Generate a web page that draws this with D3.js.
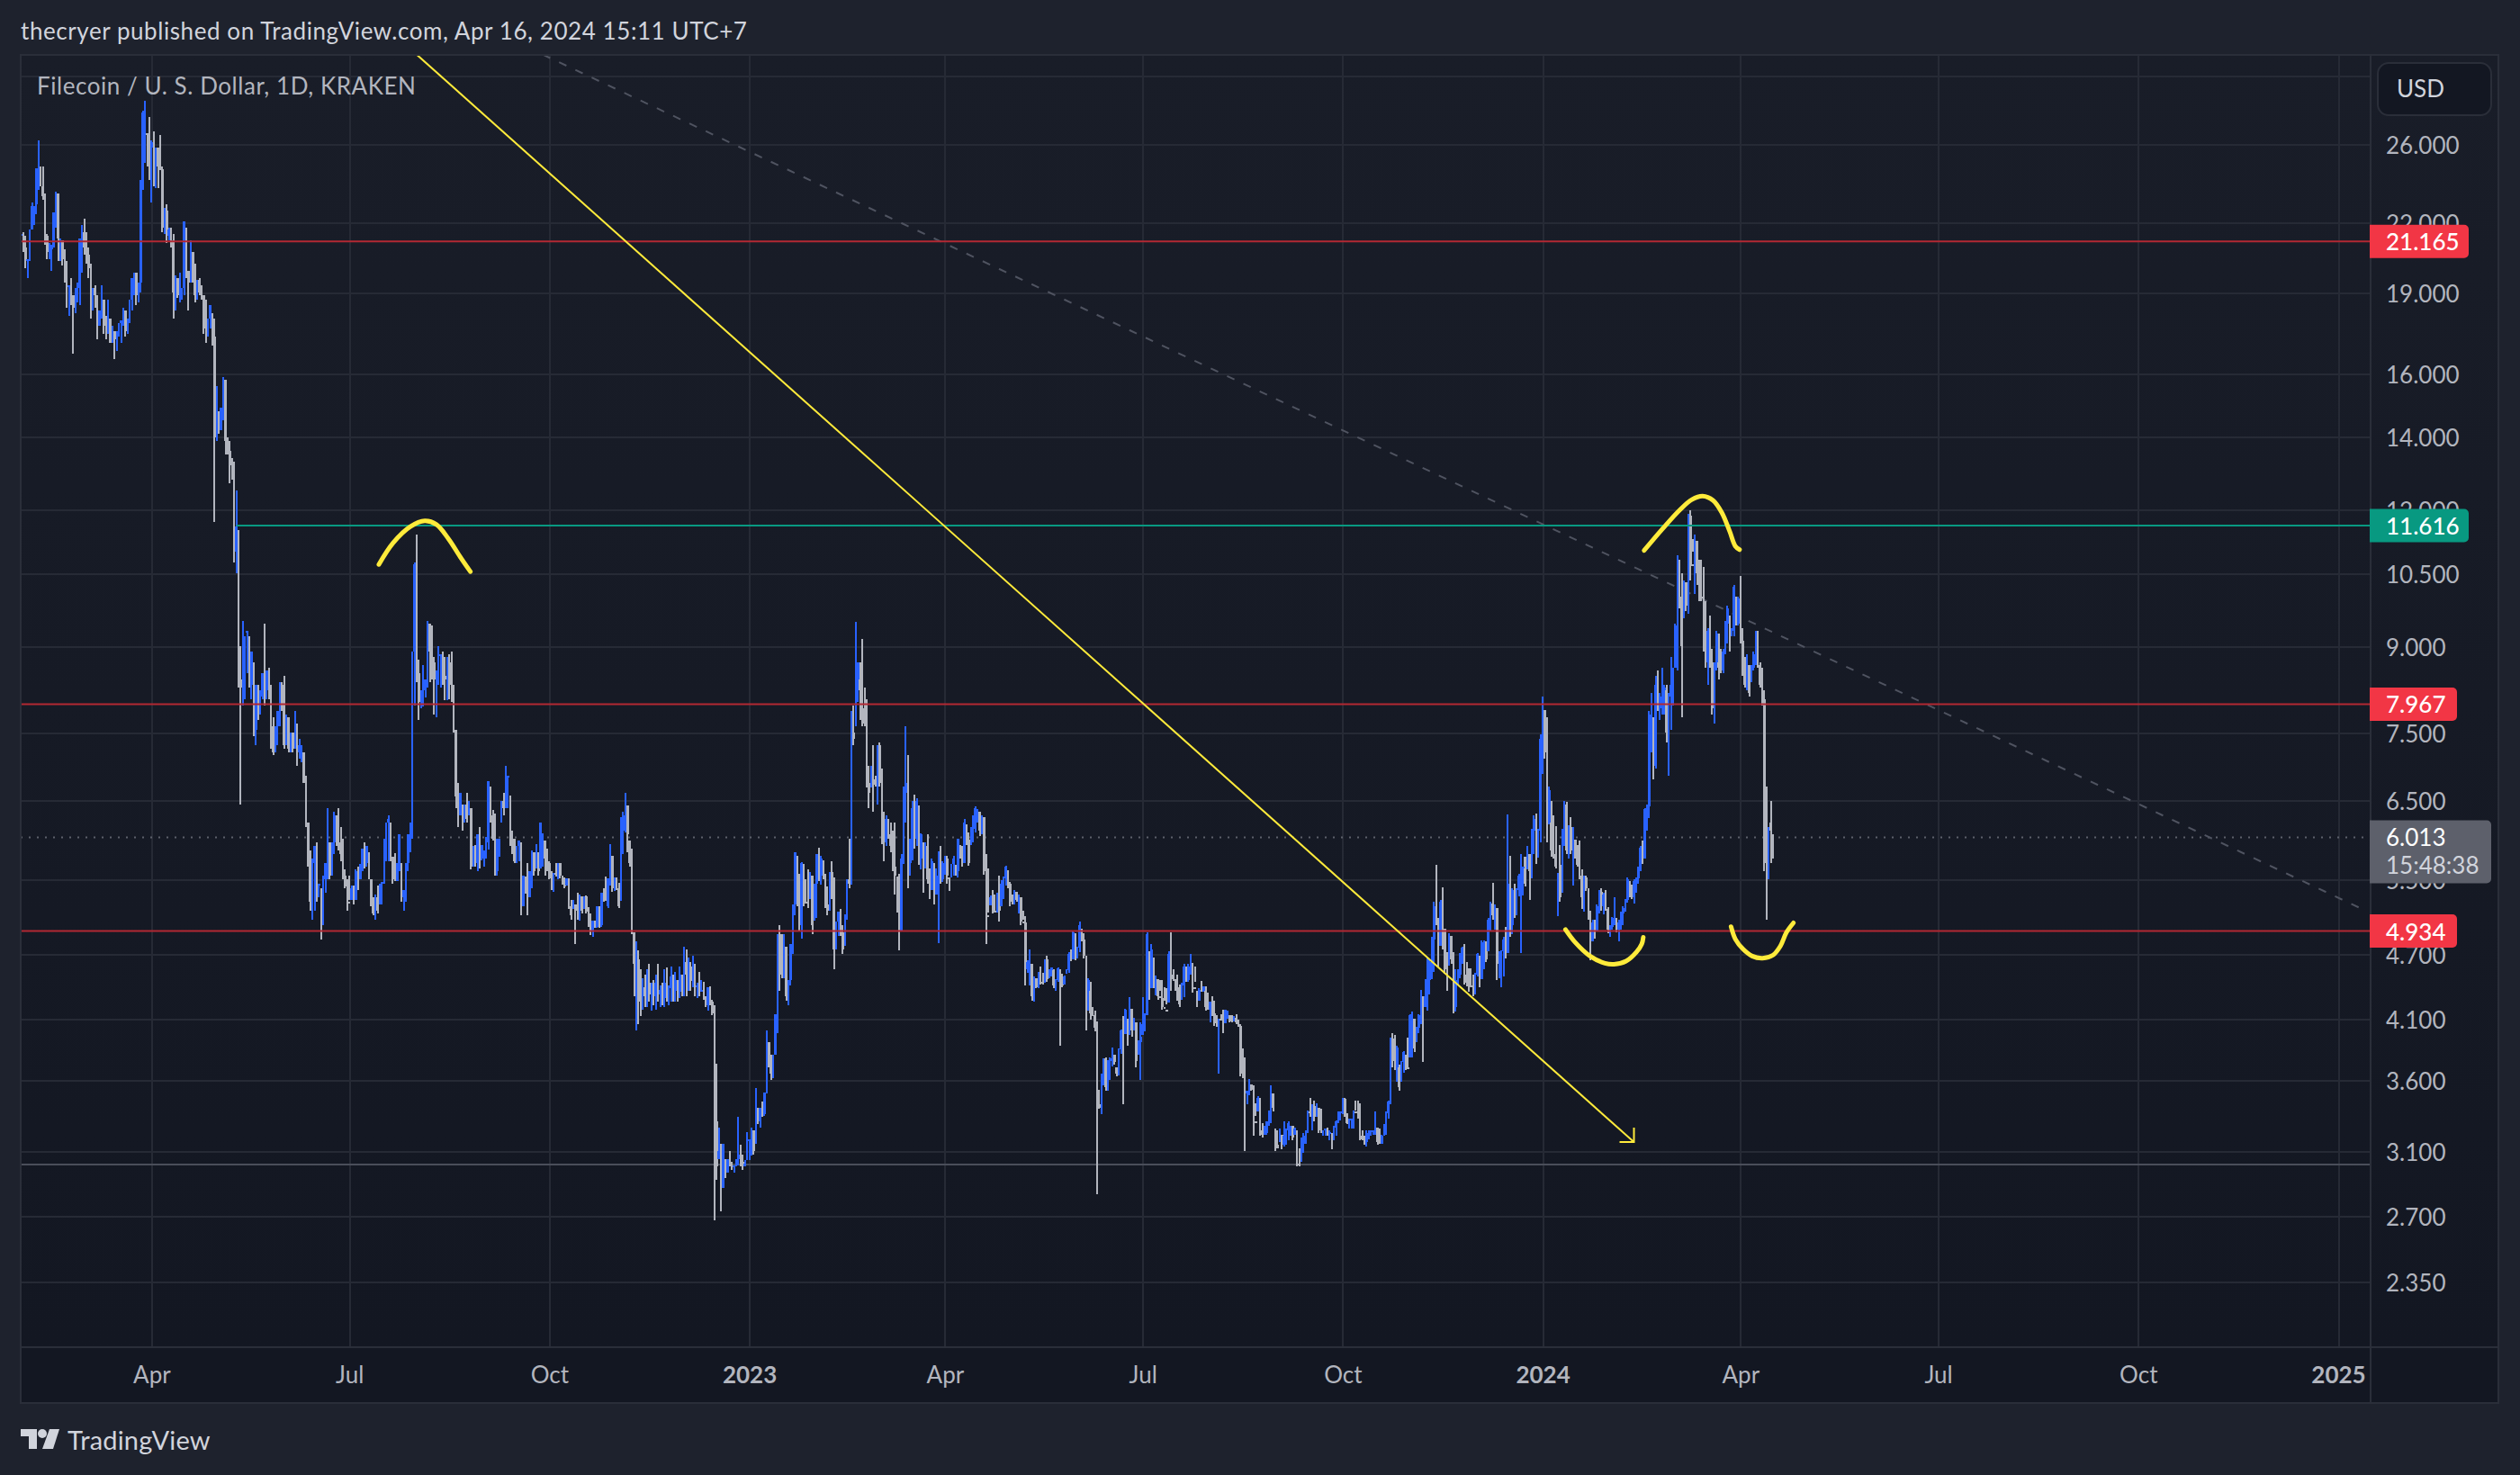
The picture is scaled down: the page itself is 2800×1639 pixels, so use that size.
<!DOCTYPE html>
<html>
<head>
<meta charset="utf-8">
<script src="https://cdn.jsdelivr.net/npm/d3@7"></script>
<style>
html, body { margin: 0; padding: 0; background: #1e222d; }
svg { display: block; }
text { font-family: Lato, "Noto Sans", sans-serif; }
</style>
</head>
<body>
<svg id="chart" width="2800" height="1639"></svg>
<script>
// every bar is [high, low, close], open is the close of the day before
let barsFromFeb22 = [
[21.6,19.0,21.5],[21.6,20.7,20.9],[21.4,20.0,20.3],[20.4,19.6,20.4],[21.7,20.3,21.7],[23.0,21.7,22.8],[22.8,21.9,22.9],[24.7,22.4,24.7],[26.2,23.6,24.8],[24.8,23.8,23.8],
[24.8,23.1,23.3],[23.4,21.0,21.4],[21.5,20.4,20.7],[21.1,20.4,20.8],[21.0,19.9,21.0],[22.5,20.9,22.5],[23.5,21.8,23.5],[23.4,20.3,21.3],[21.3,20.3,21.4],[21.2,20.1,20.4],
[20.8,19.4,19.8],[20.3,18.4,19.4],[19.3,18.1,19.5],[19.6,18.5,18.9],[18.9,16.7,18.4],[19.2,18.2,19.2],[19.4,18.6,19.4],[21.3,18.5,21.3],[21.9,19.8,21.6],[22.2,20.6,20.9],
[21.6,20.2,20.6],[20.9,19.6,20.0],[20.2,18.0,18.9],[19.2,18.3,19.2],[19.3,18.4,18.9],[18.9,17.2,17.7],[18.3,17.7,18.3],[19.3,18.0,19.2],[18.7,17.4,17.9],[18.1,17.2,17.7],
[18.7,17.4,18.7],[18.0,17.1,17.1],[17.7,17.1,17.7],[17.5,16.5,17.2],[17.5,16.8,17.5],[17.8,17.3,17.8],[17.9,17.1,17.9],[18.4,17.7,18.4],[18.3,17.3,17.5],[18.0,17.4,18.0],
[18.7,17.8,18.7],[19.6,18.3,19.6],[19.8,18.9,19.8],[19.8,18.5,18.9],[19.4,18.6,19.4],[24.1,19.0,24.1],[27.9,23.6,27.8],[28.5,25.0,27.8],[26.6,24.8,26.6],[27.5,24.1,25.8],
[26.2,23.0,26.1],[26.7,23.8,24.7],[25.8,23.7,25.8],[25.8,23.7,24.8],[26.5,24.6,24.65],[24.8,21.6,21.8],[22.7,21.5,22.6],[22.9,21.1,21.4],[21.8,21.2,21.7],[21.8,20.9,21.2],
[21.5,18.0,19.0],[19.7,18.3,19.7],[19.6,18.8,18.9],[19.8,18.6,19.2],[19.2,18.7,19.2],[22.1,18.9,22.1],[21.8,19.6,19.9],[19.9,18.3,19.4],[21.2,19.4,21.2],[20.7,19.4,19.6],
[20.2,18.6,18.9],[19.5,18.7,19.5],[19.6,18.9,19.0],[19.3,18.7,18.9],[18.9,17.4,17.6],[18.7,17.1,17.5],[18.0,17.3,18.0],[18.5,17.6,18.5],[18.2,17.0,17.3],[18.0,11.7,14.0],
[15.6,13.9,15.6],[14.8,14.1,14.2],[14.9,14.2,14.9],[15.9,14.5,15.9],[15.8,13.5,13.9],[14.0,13.5,13.6],[13.9,12.7,13.2],[13.4,12.8,13.0],[13.3,10.75,11.0]
];
let barsFromMay22 = [
[12.5,10.5,11.6],[11.5,8.25,8.4],[9.0,6.45,8.25],[9.5,7.95,9.4],[9.2,8.05,9.45],[9.3,8.5,9.5],[9.2,8.25,8.3],[8.9,8.05,8.9],[8.7,7.45,7.55],[8.3,7.3,8.3],
[8.3,7.7,7.75],[8.2,7.8,8.1],[8.5,8.05,8.5],[9.45,7.95,8.2],[8.55,8.05,8.55],[8.6,8.05,8.1],[8.3,7.25,7.6],[7.75,7.15,7.2],[7.6,7.2,7.6],[7.85,7.3,7.85],
[8.35,7.6,8.3],[8.35,7.85,7.9],[8.45,7.25,7.3],[7.8,7.3,7.8],[7.75,7.2,7.25],[7.5,7.2,7.5],[7.5,7.2,7.25],[7.85,7.25,7.85],[7.65,7.0,7.2],[7.4,7.1,7.3],
[7.3,7.05,7.35],[7.2,6.75,6.75],[6.85,6.15,6.25],[6.2,5.65,5.7],[5.85,5.15,5.25],[5.75,5.05,5.7],[5.9,5.15,5.9],[5.95,5.25,5.5],[5.45,5.3,5.55],[5.4,4.85,5.0],
[5.55,5.0,5.5],[5.7,5.35,5.7],[6.4,5.5,5.95],[5.95,5.5,5.55],[5.95,5.55,5.95],[6.35,5.8,6.3],[6.3,5.9,6.1],[6.4,5.85,5.95],[6.15,5.72,5.8],[6.0,5.5,5.55],
[5.62,5.4,5.42],[5.5,5.15,5.25],[5.55,5.27,5.2],[5.43,5.27,5.4],[5.43,5.22,5.27],[5.62,5.27,5.6],[5.65,5.38,5.45],[5.68,5.5,5.68],[5.87,5.6,5.87],[5.95,5.63,5.7],
[5.9,5.65,5.9],[5.83,5.5,5.5],[5.5,5.2,5.22],[5.3,5.1,5.12],[5.33,5.05,5.3],[5.43,5.12,5.15],[5.45,5.22,5.45],[5.47,5.22,5.47],[6.0,5.45,6.0],[6.2,5.72,6.2],
[6.3,5.72,6.25],[6.2,5.72,5.8],[5.77,5.45,5.5],[5.82,5.5,5.45],[5.7,5.48,5.7],[6.05,5.6,6.05],[5.7,5.25,5.3],[5.38,5.15,5.38],[5.7,5.25,5.7],[6.05,5.6,6.05],
[6.2,5.83,6.2],[8.9,6.0,8.9],[10.75,7.95,10.7],[11.4,8.35,8.5],[8.75,7.7,8.0],[8.2,7.9,8.2],[8.65,7.93,8.3],[8.4,8.08,8.4],[9.5,8.25,9.5],[9.45,8.35,8.9],
[9.4,8.4,8.7],[8.8,7.8,8.4],[8.55,7.75,8.55],[9.0,8.3,9.0],[8.85,8.25,9.05],[8.9,8.3,8.45],[8.8,8.03,8.4],[8.8,8.03,8.7],[8.85,8.05,8.4],[8.9,8.0,8.3],
[8.3,7.5,7.6],[7.55,6.4,6.55],[6.75,6.15,6.2],[6.6,6.3,6.6],[6.45,6.1,6.15],[6.45,6.2,6.45],[6.6,6.2,6.25],[6.5,6.3,6.5],[6.4,5.62,5.65],[5.9,5.65,5.9],
[5.92,5.65,5.7],[6.05,5.6,6.05],[6.15,5.63,5.75],[5.92,5.73,5.92],[5.85,5.65,5.95],[6.02,5.75,6.02],[6.77,5.86,6.77],[6.7,6.2,6.3],[6.37,5.97,6.0],[6.32,5.55,5.6],
[6.0,5.55,6.0],[6.0,5.77,6.05],[6.5,6.2,6.5],[6.6,6.3,6.4],[7.0,6.4,7.0],[6.85,6.4,7.05],[6.57,5.9,6.0],[6.1,5.8,5.85],[6.0,5.7,5.72],[5.9,5.7,5.9],
[5.97,5.72,5.97],[5.95,5.1,5.2],[5.55,5.2,5.55],[5.54,5.34,5.4],[5.7,5.1,5.3],[5.6,5.3,5.6],[5.85,5.4,5.85],[5.83,5.55,5.6],[5.93,5.63,5.93],[5.83,5.55,5.6],
[6.2,5.63,6.2],[6.07,5.65,6.25],[5.97,5.55,5.75],[5.87,5.6,5.7],[5.72,5.5,5.52],[5.6,5.38,5.4],[5.58,5.36,5.58],[5.7,5.54,5.56],[5.7,5.5,5.7],[5.7,5.52,5.55],
[5.55,5.44,5.45],[5.53,5.4,5.42],[5.52,5.43,5.52],[5.52,5.17,5.2],[5.27,5.05,5.1],[5.27,5.17,5.27],[5.22,4.8,5.15],[5.35,5.05,5.1],[5.33,5.04,5.33],[5.31,5.12,5.15],
[5.31,5.17,5.31],[5.32,5.12,5.14],[5.19,4.98,5.0],[5.12,4.89,4.93],[5.04,4.87,5.04],[5.04,4.97,4.98],[5.2,4.97,5.2],[5.2,4.97,5.0],[5.35,4.98,5.35],[5.4,5.25,5.28],
[5.54,5.27,5.2],[5.52,5.18,5.52],[5.93,5.43,5.93],[5.78,5.36,5.4],[5.53,5.37,5.53],[5.53,5.38,5.4],[5.46,5.18,5.2],[6.28,5.26,6.1],[6.35,5.8,6.3],[6.6,6.08,6.6],
[6.43,5.83,6.05],[5.97,5.65,5.7],[5.87,4.9,5.0],[4.92,4.3,4.6]
];
let barsFromNov22 = [
[4.83,4.0,4.65],[4.74,4.05,4.25],[4.55,4.12,4.2],[4.47,4.18,4.38],[4.5,4.2,4.3],[4.55,4.2,4.42],[4.6,4.25,4.32],[4.42,4.17,4.36],[4.45,4.22,4.3],[4.5,4.18,4.42],
[4.6,4.25,4.32],[4.4,4.2,4.36],[4.42,4.22,4.28],[4.55,4.2,4.42],[4.57,4.25,4.35],[4.4,4.22,4.37],[4.58,4.25,4.48],[4.5,4.25,4.35],[4.53,4.25,4.45],[4.45,4.25,4.34],
[4.58,4.28,4.5],[4.5,4.3,4.38],[4.77,4.3,4.62],[4.75,4.3,4.5],[4.67,4.35,4.58],[4.62,4.35,4.44],[4.68,4.38,4.56],[4.6,4.3,4.38],[4.42,4.28,4.4],[4.53,4.3,4.36],
[4.45,4.34,4.36],[4.43,4.27,4.3],[4.3,4.2,4.22],[4.38,4.17,4.38],[4.39,4.22,4.25],[4.27,4.13,4.15],[4.22,2.68,3.3],[3.73,2.92,3.0],[3.26,3.05,3.1],[3.15,2.73,2.85],
[3.15,2.87,3.15],[3.05,2.93,2.95],[3.05,2.96,3.05],[3.1,3.0,3.03],[3.03,2.98,3.0],[3.01,2.96,3.01],[3.05,3.0,3.05],[3.33,3.01,3.08],[3.14,3.0,3.03],[3.08,2.98,3.0],
[3.04,3.0,3.02],[3.23,3.04,3.2],[3.18,3.04,3.22],[3.26,3.07,3.26],[3.24,3.08,3.1],[3.54,3.15,3.54],[3.4,3.28,3.3],[3.4,3.26,3.4],[3.44,3.33,3.35],[3.51,3.34,3.51],
[4.0,3.5,4.0],[3.9,3.7,3.75],[3.8,3.6,3.65],[3.8,3.62,3.8],[4.14,3.8,4.14],[4.9,3.98,4.9],[5.0,4.35,4.5],[4.9,4.47,4.45],[4.9,4.47,4.9],[4.77,4.26,4.3],
[4.45,4.22,4.45],[4.8,4.4,4.8],[5.22,4.7,5.22],[5.83,5.1,5.83],[5.78,5.2,5.3],[5.57,4.93,5.0],[5.71,4.86,5.7],[5.68,5.2,5.25],[5.5,5.23,5.2],[5.62,5.2,5.15],
[5.59,5.28,5.59],[5.55,4.9,5.0],[5.45,5.04,5.45],[5.8,5.07,5.8],[5.88,5.48,5.55],[5.78,5.44,5.75],[5.73,5.5,5.55],[5.57,5.18,5.22],[5.42,5.1,5.15],[5.59,5.15,5.59],
[5.72,5.28,5.35],[5.53,4.55,4.75],[5.03,4.75,5.03],[5.14,4.88,5.14],[5.17,4.88,4.92],[5.0,4.7,4.75],[5.11,4.78,5.05],[5.5,5.05,5.5],[6.0,5.4,5.45],[7.86,5.44,7.5],
[7.95,7.3,7.4],[9.47,7.6,8.4],[8.7,8.0,8.7],[8.7,7.7,8.2],[9.15,7.6,7.9],[8.25,7.6,7.65],[8.05,6.68,6.75],[7.0,6.4,6.6],[7.0,6.68,6.95],[7.3,6.35,6.8],
[6.85,6.7,6.72],[7.3,6.45,7.3],[7.35,6.7,6.75],[6.95,5.93,6.05],[6.35,5.72,5.95],[6.3,5.9,6.25],[6.25,6.0,6.05],[6.2,5.83,5.9],[6.1,5.6,5.65],[6.2,5.33,5.55],
[5.54,5.13,5.2],[5.57,4.74,4.9],[5.8,4.93,5.75],[6.7,5.68,6.6],[7.6,6.2,6.75],[7.15,5.4,5.7],[6.0,5.55,5.95],[6.5,5.73,6.4],[6.58,5.87,6.0],[6.53,5.9,6.5]
];
let barsFromMar23 = [
[6.43,5.67,5.75],[6.07,5.62,6.05],[5.95,5.35,5.4],[5.95,5.63,5.9],[6.05,5.45,5.5],[5.63,5.28,5.32],[5.75,5.38,5.72],[5.7,5.22,5.3],[5.63,5.33,5.45],[5.84,4.81,5.55],
[5.9,5.45,5.5],[5.72,5.47,5.7],[5.78,5.56,5.75],[5.78,5.45,5.55],[5.53,5.37,5.5],[5.69,5.53,5.69],[5.78,5.55,5.75],[5.67,5.55,5.6],[6.0,5.53,6.0],[5.92,5.75,5.78],
[5.9,5.65,5.7],[6.25,5.7,6.2],[6.18,5.92,5.98],[6.08,5.66,5.7],[6.14,5.92,6.12],[6.3,5.95,6.28],[6.42,6.08,6.4],[6.38,6.2,6.4],[6.35,6.03,6.1],[6.3,6.05,6.28],
[6.28,5.56,5.6],[5.8,4.8,5.1],[5.63,5.13,5.05],[5.32,5.21,5.3],[5.38,5.12,5.15],[5.33,5.14,5.1],[5.35,5.13,5.33],[5.55,5.03,5.15],[5.49,5.2,5.45],[5.54,5.28,5.52],
[5.66,5.43,5.65],[5.61,5.4,5.45],[5.47,5.2,5.25],[5.33,5.22,5.24],[5.38,5.22,5.38],[5.36,5.25,5.27],[5.33,5.12,5.32],[5.3,5.0,5.03],[5.15,5.05,5.02],[5.09,4.4,4.55],
[4.64,4.52,4.62],[4.75,4.4,4.73],[4.6,4.26,4.3],[4.48,4.25,4.47],[4.47,4.37,4.38],[4.53,4.37,4.52],[4.58,4.41,4.43],[4.52,4.41,4.42],[4.65,4.42,4.65],[4.68,4.43,4.46],
[4.55,4.47,4.54],[4.57,4.48,4.57],[4.55,4.37,4.4],[4.46,4.35,4.45],[4.57,4.43,4.56],[4.55,3.87,4.42],[4.51,4.38,4.4],[4.49,4.41,4.48],[4.55,4.51,4.54],[4.72,4.52,4.7],
[4.75,4.63,4.65],[4.93,4.65,4.92],[4.91,4.64,4.68],[4.77,4.66,4.76],[5.03,4.72,5.0],[4.96,4.83,4.85],[4.91,4.66,4.68],[4.68,4.0,4.35],[4.47,4.17,4.45],[4.43,4.09,4.15],
[4.2,4.12,4.13],[4.17,3.99,4.02],[4.08,2.83,3.42],[3.53,3.39,3.4],[3.65,3.35,3.6],[3.77,3.56,3.77],[3.78,3.52,3.55],[3.76,3.52,3.75],[3.78,3.6,3.77],[3.86,3.71,3.85],
[3.8,3.72,3.74],[3.7,3.63,3.65],[3.85,3.64,3.84],[4.01,3.81,4.0],[4.12,3.42,3.95],[4.19,3.97,4.18],[4.1,3.87,3.9],[4.29,3.96,4.28],[4.19,3.95,4.0],[4.11,4.0,4.1],
[4.07,3.7,3.75],[3.92,3.8,3.9],[4.07,3.6,3.95],[4.29,3.96,4.05],[4.15,3.99,4.13],[4.92,4.13,4.9],[4.73,4.27,4.35],[4.8,4.37,4.75],[4.67,4.37,4.4],[4.49,4.31,4.48],
[4.46,4.27,4.3],[4.45,4.35,4.28],[4.45,4.18,4.2],[4.38,4.26,4.18],[4.37,4.23,4.15],[4.73,4.24,4.7],[4.92,4.35,4.5],[4.55,4.44,4.46],[4.46,4.35,4.38],[4.5,4.26,4.3],
[4.41,4.2,4.23],[4.42,4.27,4.4],[4.6,4.29,4.58],[4.58,4.43,4.45],[4.6,4.43,4.58],[4.7,4.5,4.68],[4.61,4.33,4.38],[4.58,4.43,4.35]
];
let barsFromJul23 = [
[4.35,4.2,4.22],[4.37,4.26,4.36],[4.44,4.36,4.35],[4.39,4.34,4.39],[4.39,4.17,4.2],[4.33,4.18,4.18],[4.25,4.07,4.25],[4.3,4.12,4.15],[4.26,4.04,4.06],[4.13,4.03,4.05],
[4.1,3.65,4.1],[4.14,4.09,4.09],[4.18,3.98,4.05],[4.18,4.06,4.18],[4.17,4.1,4.19],[4.13,4.07,4.09],[4.13,4.07,4.08],[4.12,4.08,4.11],[4.14,4.05,4.07],[4.09,4.03,4.04],
[4.05,3.63,3.65],[3.85,3.62,3.64],[3.78,3.1,3.5],[3.52,3.42,3.52],[3.61,3.49,3.6],[3.57,3.52,3.53],[3.56,3.2,3.3],[3.43,3.34,3.28],[3.48,3.37,3.47],[3.47,3.2,3.24],
[3.29,3.19,3.21],[3.27,3.21,3.22],[3.3,3.21,3.3],[3.38,3.27,3.37],[3.56,3.29,3.5],[3.5,3.37,3.4],[3.25,3.1,3.14],[3.24,3.12,3.12],[3.25,3.16,3.22],[3.21,3.11,3.14],
[3.3,3.13,3.2],[3.25,3.14,3.24],[3.3,3.17,3.29],[3.27,3.2,3.31],[3.27,3.17,3.19],[3.26,3.21,3.25],[3.24,3.0,3.02],[3.12,3.0,3.01],[3.19,3.03,3.15],[3.22,3.09,3.2],
[3.24,3.15,3.23],[3.38,3.22,3.37],[3.47,3.33,3.36],[3.42,3.24,3.41],[3.45,3.3,3.33],[3.43,3.33,3.42],[3.4,3.22,3.3],[3.39,3.22,3.24],[3.24,3.2,3.24],[3.25,3.2,3.25],
[3.26,3.2,3.22],[3.24,3.17,3.23],[3.22,3.11,3.13],[3.27,3.17,3.26],[3.31,3.2,3.3],[3.37,3.29,3.36],[3.37,3.31,3.37],[3.47,3.35,3.46],[3.47,3.33,3.35],[3.36,3.28,3.29],
[3.32,3.25,3.31],[3.32,3.25,3.32],[3.38,3.25,3.37],[3.45,3.38,3.36],[3.45,3.32,3.34],[3.43,3.17,3.2],[3.24,3.17,3.18],[3.2,3.14,3.16],[3.24,3.13,3.22],[3.24,3.18,3.23],
[3.24,3.2,3.24],[3.24,3.21,3.24],[3.37,3.21,3.36],[3.26,3.14,3.16],[3.25,3.16,3.15],[3.21,3.15,3.2],[3.28,3.2,3.27],[3.37,3.21,3.36],[3.45,3.32,3.44],[3.94,3.42,3.93],
[3.98,3.7,3.75],[3.96,3.68,3.7],[3.87,3.59,3.86],[3.72,3.52,3.55],[3.75,3.59,3.74],[3.83,3.66,3.82],[3.8,3.68,3.7],[3.94,3.7,3.68],[4.14,3.78,4.13],[4.16,3.78,4.15],
[4.1,3.82,3.85],[4.03,3.9,4.02],[4.14,3.98,4.13],[4.36,4.05,4.35],[4.3,3.74,4.0],[4.46,4.2,4.3],[4.67,4.17,4.45],[4.65,4.32,4.62],[4.87,4.46,4.85],[5.25,4.53,5.2],
[5.67,5.0,5.1],[5.07,4.58,4.6],[5.27,4.78,5.25],[5.41,4.75,5.0],[4.96,4.51,4.55],[4.72,4.35,4.4],[4.91,4.59,4.9],[4.88,4.6,4.65],[4.72,4.15,4.2],[4.55,4.16,4.45],
[4.55,4.4,4.5],[4.71,4.47,4.7],[4.77,4.6,4.76],[4.8,4.41,4.5],[4.62,4.39,4.42],[4.56,4.34,4.4],[4.56,4.38,4.35],[4.5,4.3,4.33],[4.52,4.32,4.5],[4.71,4.48,4.7],
[4.68,4.38,4.45],[4.84,4.46,4.82],[4.84,4.55,4.83],[4.83,4.62,4.65],[5.07,4.73,5.05],[5.25,4.94,5.23],[5.46,5.05,5.1],[5.22,4.95,5.2],[5.18,4.45,4.6],[4.73,4.47,4.68],
[4.74,4.38,4.73],[4.87,4.48,4.85],[4.98,4.66,4.7]
];
let barsFromDec23 = [
[6.31,4.71,5.45],[5.78,4.87,5.0],[5.4,4.9,5.38],[5.45,5.07,5.1],[5.4,5.1,5.38],[5.57,5.31,5.55],[5.8,4.71,5.75],[5.65,5.32,5.8],[5.77,5.42,5.45],[5.9,5.62,5.88],
[5.8,5.27,5.6],[6.12,5.52,6.1],[6.3,5.8,6.25],[6.32,5.68,5.9],[6.12,5.76,6.1],[7.47,5.95,7.4],[8.1,6.87,8.0],[7.87,7.1,7.2],[7.75,5.95,6.2],[6.7,6.18,6.65],
[6.5,5.77,5.85],[6.3,5.75,5.8],[6.16,5.63,5.65],[5.58,5.09,5.67],[5.92,5.25,5.3],[6.12,5.35,6.1],[6.5,5.9,6.45],[6.48,5.8,5.85],[6.17,5.75,6.15],[6.27,5.8,5.85],
[6.15,5.43,6.1],[5.99,5.75,5.78],[5.92,5.65,5.67],[5.97,5.5,5.55],[5.62,5.17,5.3],[5.55,5.14,5.53],[5.55,5.37,5.4],[5.4,5.05,5.1],[5.15,4.64,4.7],[5.05,4.83,5.02],
[5.05,4.86,4.9],[5.22,4.93,5.2],[5.38,5.12,5.36],[5.4,5.15,5.2],[5.35,5.11,5.33],[5.38,5.15,5.17],[5.19,4.91,4.95],[5.0,4.87,4.98],[5.08,4.95,5.07],[5.3,5.0,5.28],
[5.07,4.92,4.95],[5.05,4.83,5.02],[5.14,4.95,5.12],[5.2,5.0,5.18],[5.28,5.14,5.27],[5.53,5.24,5.5],[5.48,5.3,5.33],[5.44,5.28,5.3],[5.5,5.23,5.48],[5.53,5.35,5.52],
[5.65,5.45,5.63],[5.9,5.6,5.88],[5.97,5.68,5.72],[6.4,5.75,6.38],[6.45,6.1,6.42],[7.85,6.26,7.8],[8.15,7.2,8.1],[7.75,6.8,7.0]
];
let barsFromFeb24 = [
[8.45,6.95,8.3],[8.55,7.85,7.9],[8.15,7.7,8.1],[8.6,7.8,8.2],[8.3,7.8,8.25],[8.3,7.35,7.5],[8.15,6.85,8.1],[8.8,7.55,8.3],[8.6,7.95,8.55],[9.45,8.6,9.4],
[10.9,8.55,10.8],[10.8,9.75,10.0],[10.5,7.75,9.0],[10.35,9.55,10.3],[10.3,9.7,9.8],[11.9,9.65,11.85],[12.0,10.35,10.7],[11.3,11.0,10.6],[11.4,10.05,11.3],[11.25,10.25,10.5],
[10.8,9.9,10.0],[10.8,9.9,9.95],[10.65,8.9,9.0],[9.9,8.6,8.7],[9.35,8.3,9.3],[9.6,8.6,8.7],[8.95,7.8,7.9],[8.7,7.65,8.7],[9.3,8.55,9.25],[9.25,8.4,8.6],
[8.95,8.5,8.55],[8.95,8.5,8.9],[9.5,8.85,9.45],[9.8,9.05,9.75],[9.6,8.9,9.0],[9.35,9.2,9.3],[10.25,9.2,10.2],[10.0,9.4,9.45],[10.0,9.4,9.95],[10.45,9.05,9.1],
[9.35,8.45,8.5],[8.8,8.25,8.3],[8.85,8.2,8.8],[8.65,8.1,8.15],[8.65,8.35,8.6],[8.9,8.55,8.85],[9.3,8.65,9.25],[9.3,8.6,8.65],[8.7,8.25,8.3],[8.6,7.95,8.05],
[8.2,5.6,5.7],[6.7,5.05,5.5],[6.15,5.5,6.2],[6.5,5.7,6.1],[6.05,5.75,6.013]
];
let barSegments = [
    ['2022-01-31', barsFromFeb22],
    ['2022-05-10', barsFromMay22],
    ['2022-11-10', barsFromNov22],
    ['2023-03-20', barsFromMar23],
    ['2023-07-26', barsFromJul23],
    ['2023-12-16', barsFromDec23],
    ['2024-02-22', barsFromFeb24]
];

let priceTicks = [26, 22, 19, 16, 14, 12, 10.5, 9, 7.5, 6.5, 5.5, 4.7, 4.1, 3.6, 3.1, 2.7, 2.35];
let hiddenPriceTicks = [30];
let timeTicks = ['2022-04-01', '2022-07-01', '2022-10-01', '2023-01-01', '2023-04-01', '2023-07-01', '2023-10-01', '2024-01-01', '2024-04-01', '2024-07-01', '2024-10-01', '2025-01-01'];
let timeLabels = ['Apr', 'Jul', 'Oct', '2023', 'Apr', 'Jul', 'Oct', '2024', 'Apr', 'Jul', 'Oct', '2025'];

let redLevels = [21.165, 7.967, 4.934];
let greenLevel = 11.616;
let greenLevelStart = '2022-05-10';
let baseLevel = 3.013;
let lastPrice = 6.013;
let countdown = '15:48:38';

// drawings, [date, price]
let downTrend = [['2022-08-01', 31.4], ['2024-02-12', 3.16]];
let dashedTrend = [['2022-09-28', 31.4], ['2025-01-11', 5.18]];
// hand drawn arcs, [days after 2022-04-01, price]
let arcBase = '2022-04-01';
let arcTop2022 = [[104.6,10.70],[111.2,11.20],[119.1,11.59],[125.7,11.73],[131.1,11.64],[136.7,11.29],[142.3,10.85],[146.7,10.54]];
let arcTop2024 = [[686.7,11.02],[694.9,11.52],[703.2,12.01],[708.7,12.27],[713.6,12.36],[718.4,12.25],[722.5,11.93],[726.0,11.48],[728.7,11.12],[730.6,11.04]];
let arcLowJan = [[650.5,4.95],[654.9,4.82],[661.8,4.68],[668.7,4.61],[672.8,4.60],[678.4,4.63],[683.2,4.72],[685.6,4.80],[686.3,4.87]];
let arcLowApr = [[726.7,4.98],[728.7,4.85],[732.2,4.75],[736.4,4.68],[741.2,4.66],[746.0,4.69],[749.4,4.78],[752.2,4.92],[755.4,5.02]];

let titleText = 'thecryer published on TradingView.com, Apr 16, 2024 15:11 UTC+7';
let legendText = 'Filecoin / U. S. Dollar, 1D, KRAKEN';

let plot = { left: 23, right: 2634, top: 61, bottom: 1497, axisRight: 2776, axisBottom: 1559 };
let parseDay = d3.utcParse('%Y-%m-%d');

let x = d3.scaleUtc()
    .domain([parseDay('2022-04-01'), parseDay('2025-01-01')])
    .range([168.4, 2598]);
let y = d3.scaleLog()
    .domain([2.35, 26])
    .range([1424.9, 160]);

let bars = [];
for (let [start, rows] of barSegments) {
    rows.forEach((r, i) => {
        let prev = bars.length ? bars[bars.length - 1].close : r[2];
        bars.push({ date: d3.utcDay.offset(parseDay(start), i), high: r[0], low: r[1], close: r[2], open: prev });
    });
}
// blue bars go on top of the gray ones
let isUp = d => d.close >= d.open;
let drawOrder = bars.filter(d => !isUp(d)).concat(bars.filter(isUp));

let svg = d3.select('#chart');
let defs = svg.append('defs');
let grad = defs.append('linearGradient').attr('id', 'panelFill').attr('x1', 0).attr('x2', 0).attr('y1', 0).attr('y2', 1);
grad.append('stop').attr('offset', 0).attr('stop-color', '#191d28');
grad.append('stop').attr('offset', 1).attr('stop-color', '#131722');
defs.append('clipPath').attr('id', 'plotClip').append('rect')
    .attr('x', plot.left).attr('y', plot.top)
    .attr('width', plot.right - plot.left).attr('height', plot.bottom - plot.top);

svg.append('rect').attr('width', 2800).attr('height', 1639).attr('fill', '#1e222d');
svg.append('rect').attr('x', plot.left).attr('y', plot.top)
    .attr('width', plot.axisRight - plot.left).attr('height', plot.bottom - plot.top)
    .attr('fill', 'url(#panelFill)');
svg.append('rect').attr('x', plot.left).attr('y', plot.bottom)
    .attr('width', plot.axisRight - plot.left).attr('height', plot.axisBottom - plot.bottom)
    .attr('fill', '#131722');

// title and legend
svg.append('text').attr('x', 23).attr('y', 44).attr('font-size', 26).attr('letter-spacing', 0.57).attr('fill', '#d1d4dc').text(titleText);

// grid
let gridV = svg.append('g')
    .attr('transform', `translate(0,${plot.bottom})`)
    .call(d3.axisBottom(x).tickValues(timeTicks.map(parseDay)).tickSize(plot.top - plot.bottom).tickFormat(''));
let gridH = svg.append('g')
    .attr('transform', `translate(${plot.left},0)`)
    .call(d3.axisRight(y).tickValues(priceTicks.concat(hiddenPriceTicks)).tickSize(plot.right - plot.left).tickFormat(''));
for (let g of [gridV, gridH]) {
    g.select('.domain').remove();
    g.selectAll('line').attr('stroke', '#262a35').attr('stroke-width', 2).attr('shape-rendering', 'crispEdges');
}

let marks = svg.append('g').attr('clip-path', 'url(#plotClip)');

marks.append('line')
    .attr('x1', plot.left).attr('x2', plot.right)
    .attr('y1', y(baseLevel)).attr('y2', y(baseLevel))
    .attr('stroke', '#4a4e5a').attr('stroke-width', 2);

marks.append('line')
    .attr('x1', plot.left).attr('x2', plot.right)
    .attr('y1', y(lastPrice)).attr('y2', y(lastPrice))
    .attr('stroke', '#5d606b').attr('stroke-width', 2).attr('stroke-dasharray', '2 7');

let lineOf = d3.line().x(d => x(parseDay(d[0]))).y(d => y(d[1]));

marks.append('path').datum(dashedTrend).attr('d', lineOf)
    .attr('fill', 'none').attr('stroke', '#4f5360').attr('stroke-width', 2).attr('stroke-dasharray', '9 11');

// bars
let barColor = d => isUp(d) ? '#2962ff' : '#b2b5be';
let barRows = marks.append('g').selectAll('g').data(drawOrder).join('g').attr('fill', barColor);
barRows.append('rect')
    .attr('x', d => x(d.date) - 1)
    .attr('width', 2)
    .attr('y', d => y(d.high))
    .attr('height', d => Math.max(1, y(d.low) - y(d.high)))
    .attr('shape-rendering', 'crispEdges');
barRows.append('rect')
    .attr('x', d => x(d.date) - 1.25)
    .attr('width', 2.5)
    .attr('y', d => y(Math.min(d.high, Math.max(d.open, d.close))))
    .attr('height', d => Math.max(2, y(Math.max(d.low, Math.min(d.open, d.close))) - y(Math.min(d.high, Math.max(d.open, d.close)))))
    .attr('shape-rendering', 'crispEdges');

// levels
marks.selectAll('.red').data(redLevels).join('line')
    .attr('x1', plot.left).attr('x2', plot.right)
    .attr('y1', d => y(d)).attr('y2', d => y(d))
    .attr('stroke', '#b22833').attr('stroke-width', 2);
marks.append('line')
    .attr('x1', x(parseDay(greenLevelStart))).attr('x2', plot.right)
    .attr('y1', y(greenLevel)).attr('y2', y(greenLevel))
    .attr('stroke', '#089981').attr('stroke-width', 2);

// yellow trend line with arrow
marks.append('path').datum(downTrend).attr('d', lineOf)
    .attr('fill', 'none').attr('stroke', '#ffeb3b').attr('stroke-width', 2);
let tipX = x(parseDay(downTrend[1][0])), tipY = y(downTrend[1][1]);
marks.append('path')
    .attr('d', `M${tipX - 16},${tipY} L${tipX},${tipY} L${tipX},${tipY - 16}`)
    .attr('fill', 'none').attr('stroke', '#ffeb3b').attr('stroke-width', 2);

// hand drawn arcs
let arcLine = d3.line()
    .x(d => x(d3.utcHour.offset(parseDay(arcBase), d[0] * 24)))
    .y(d => y(d[1]))
    .curve(d3.curveCatmullRom);
marks.selectAll('.arc').data([arcTop2022, arcTop2024, arcLowJan, arcLowApr]).join('path')
    .attr('d', arcLine)
    .attr('fill', 'none').attr('stroke', '#ffeb3b').attr('stroke-width', 5)
    .attr('stroke-linecap', 'round').attr('stroke-linejoin', 'round');

// legend sits above the grid
svg.append('text').attr('x', 41).attr('y', 105).attr('font-size', 26).attr('letter-spacing', 0.55).attr('fill', '#b2b5be').text(legendText);

// panel borders
let borders = svg.append('g').attr('stroke', '#2a2e39').attr('stroke-width', 2).attr('fill', 'none').attr('shape-rendering', 'crispEdges');
borders.append('rect').attr('x', plot.left).attr('y', plot.top)
    .attr('width', plot.axisRight - plot.left).attr('height', plot.axisBottom - plot.top);
borders.append('line').attr('x1', plot.right).attr('x2', plot.right).attr('y1', plot.top).attr('y2', plot.axisBottom);
borders.append('line').attr('x1', plot.left).attr('x2', plot.axisRight).attr('y1', plot.bottom).attr('y2', plot.bottom);

// axes
let priceAxis = svg.append('g')
    .attr('transform', `translate(${plot.right},0)`)
    .call(d3.axisRight(y).tickValues(priceTicks).tickSize(0).tickPadding(17).tickFormat(d3.format('.3f')));
let timeAxis = svg.append('g')
    .attr('transform', `translate(0,${plot.bottom})`)
    .call(d3.axisBottom(x).tickValues(timeTicks.map(parseDay)).tickSize(0).tickPadding(22)
        .tickFormat((d, i) => timeLabels[i]));
for (let g of [priceAxis, timeAxis]) {
    g.select('.domain').remove();
    g.selectAll('text').attr('font-family', 'Lato').attr('font-size', 26).attr('fill', '#b2b5be');
}
priceAxis.selectAll('text').attr('dy', 10);
timeAxis.selectAll('text').filter((d, i) => /^20/.test(timeLabels[i])).attr('font-weight', 700);

// USD box
svg.append('rect').attr('x', 2642).attr('y', 70).attr('width', 126).attr('height', 58).attr('rx', 12)
    .attr('fill', '#131722').attr('stroke', '#2a2e39').attr('stroke-width', 2);
svg.append('text').attr('x', 2663).attr('y', 108).attr('font-size', 26).attr('fill', '#d1d4dc').text('USD');

// price tags
function tag(value, fill) {
    let w = value >= 10 ? 110 : 97;
    let cy = y(value);
    svg.append('path')
        .attr('d', `M${plot.right - 1},${cy - 18.5} h${w - 5} a5,5 0 0 1 5,5 v27 a5,5 0 0 1 -5,5 h${-(w - 5)} z`)
        .attr('fill', fill);
    svg.append('text').attr('x', 2651).attr('y', cy + 10)
        .attr('font-size', 26).attr('font-weight', 500).attr('fill', '#ffffff').text(d3.format('.3f')(value));
}
redLevels.forEach(v => tag(v, '#f23645'));
tag(greenLevel, '#089981');

let lastY = y(lastPrice);
svg.append('path')
    .attr('d', `M${plot.right - 1},${lastY - 19} h130 a5,5 0 0 1 5,5 v60 a5,5 0 0 1 -5,5 h-130 z`)
    .attr('fill', '#5d606b');
svg.append('text').attr('x', 2651).attr('y', lastY + 10).attr('font-size', 26).attr('fill', '#ffffff').text(d3.format('.3f')(lastPrice));
svg.append('text').attr('x', 2651).attr('y', lastY + 41).attr('font-size', 26).attr('fill', '#d1d4dc').text(countdown);

// logo
let logo = svg.append('g').attr('fill', '#d1d4dc');
logo.append('path').attr('d', 'M23,1588 H41 V1610 H32 V1596 H23 Z');
logo.append('circle').attr('cx', 47).attr('cy', 1593).attr('r', 5);
logo.append('path').attr('d', 'M55,1588 H66 L59,1610 H47 Z');
logo.append('text').attr('x', 75).attr('y', 1611).attr('font-size', 29).attr('letter-spacing', 0.2).text('TradingView');
</script>
</body>
</html>
